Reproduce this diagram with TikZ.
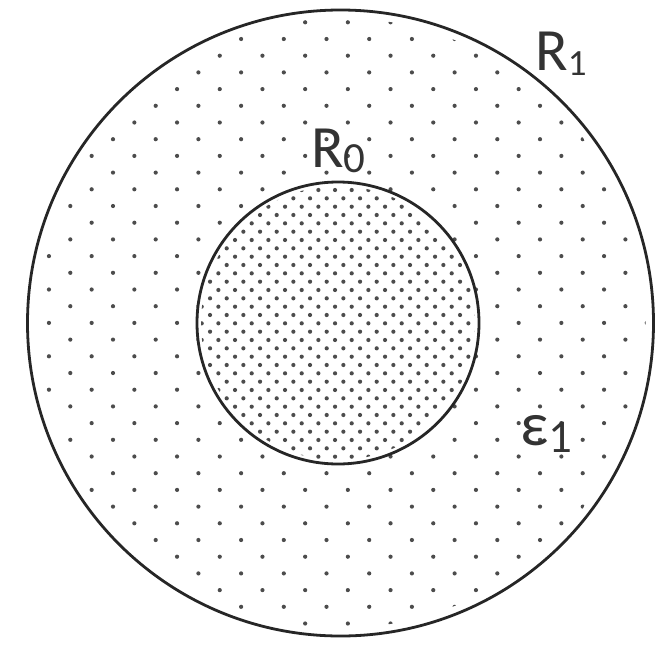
\documentclass[tikz,border=0pt]{standalone}
\usepackage{fontspec}
\setmainfont{Carlito}
\definecolor{dotgray}{gray}{0.3}
\definecolor{linegray}{gray}{0.15}
\definecolor{textgray}{gray}{0.2}
\begin{document}
\begin{tikzpicture}[x=1pt,y=-1pt,
  ring/.style={circle,draw=linegray,line width=2.8pt,inner sep=0pt},
  lbl/.style={anchor=base west,inner sep=0pt,text=textgray},
  odot/.style={fill=dotgray},
  idot/.style={fill=dotgray}]
\useasboundingbox (0,0) rectangle (658,648);
\coordinate (oc) at (340.5,323);
\coordinate (ic) at (338,323);
% outer sparse dots
\begin{scope}
\clip (oc) circle[radius=305pt];
\foreach \i in {0,...,40}{
  \foreach \k in {-1,...,14}{
    \fill[odot] ({70.3-21.35*mod(\i,2)+42.7*\k},{5.6+16.7*\i}) circle[radius=2.1pt];
  }
}
\end{scope}
% inner disc
\node[ring,fill=white,minimum size=282pt] (inner) at (ic) {};
\begin{scope}
\clip (ic) circle[radius=137pt];
\foreach \i in {0,...,35}{
  \foreach \k in {-7,...,11}{
    \fill[idot] ({301.7+8.333*(1-mod(\i,2))+16.667*\k},{181.67+8.333*\i}) circle[radius=2.1pt];
  }
}
\end{scope}
\node[ring,minimum size=626pt] (outer) at (oc) {};
% labels
\node[lbl] (r1) at (535,70) {\fontsize{60}{60}\selectfont R\raisebox{-5pt}{\fontsize{37}{37}\selectfont 1}};
\node[lbl] (r0) at (311,167) {\fontsize{60}{60}\selectfont R\raisebox{-5pt}{\fontsize{43}{43}\selectfont 0}};
\node[lbl] (e1) at (520,445) {\fontsize{62}{62}\selectfont ε\raisebox{-7pt}{\fontsize{47}{47}\selectfont 1}};
\end{tikzpicture}
\end{document}
